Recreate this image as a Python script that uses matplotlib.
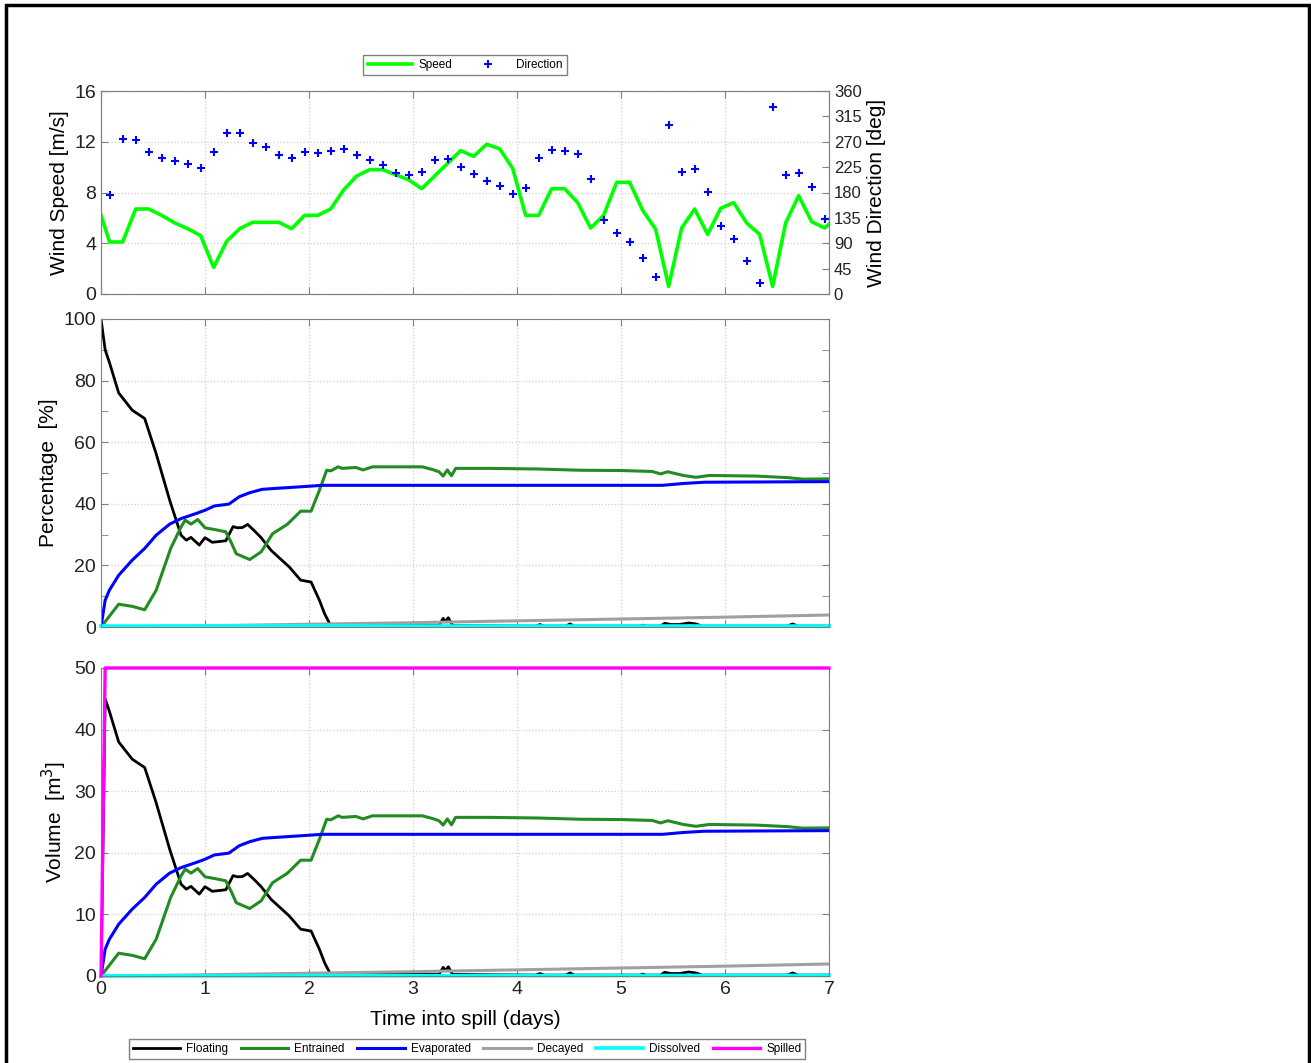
import numpy as np
import matplotlib
matplotlib.use("Agg")
from matplotlib import pyplot as plt
from matplotlib.patches import Rectangle

plt.rcParams['font.family'] = ['Liberation Sans', 'DejaVu Sans']

# wind record (hours since spill start)
dir_hours = np.arange(2, 168, 3)
wind_dir = [176, 274, 273, 251, 241, 235, 230, 223, 252, 285,
            285, 267, 261, 246, 241, 252, 250, 253, 257, 247,
            238, 228, 214, 211, 217, 237, 240, 225, 212, 200,
            192, 178, 188, 241, 256, 254, 248, 204, 132, 109,
            93, 64, 30, 299, 217, 221, 181, 120, 97, 58,
            20, 332, 211, 215, 189, 133]
speed_hours = np.concatenate([[0], dir_hours, [168]])
wind_speed = [6.2,
              4.1, 4.1, 6.7, 6.7, 6.2, 5.6, 5.15, 4.6, 2.1, 4.15,
              5.15, 5.65, 5.65, 5.65, 5.15, 6.2, 6.2, 6.7, 8.2, 9.3,
              9.8, 9.8, 9.4, 9.0, 8.3, 9.3, 10.3, 11.3, 10.85, 11.8,
              11.45, 9.9, 6.2, 6.2, 8.3, 8.3, 7.2, 5.2, 6.2, 8.8,
              8.8, 6.6, 5.1, 0.6, 5.2, 6.7, 4.7, 6.75, 7.2, 5.6,
              4.7, 0.6, 5.6, 7.75, 5.7, 5.2,
              5.5]

# mass balance, percent of spilled volume
float_t = [0, 0.04, 0.08, 0.17, 0.30, 0.42, 0.53, 0.66, 0.77, 0.82, 0.865, 0.945,
           1.0, 1.07, 1.2, 1.27, 1.31, 1.36, 1.41, 1.47, 1.54, 1.635, 1.81, 1.92,
           2.02, 2.1, 2.15, 2.2, 2.26, 3.25, 3.29, 3.31, 3.34, 3.38, 4.18, 4.22,
           4.26, 4.47, 4.51, 4.55, 5.18, 5.21, 5.24, 5.38, 5.42, 5.48, 5.56, 5.65,
           5.72, 5.78, 6.6, 6.65, 6.7, 7.0]
float_pct = [100, 90, 86, 76, 70.4, 67.7, 56.3, 41.2, 29.8, 28.2, 29.1, 26.6,
             29, 27.5, 28, 32.6, 32.2, 32.3, 33.3, 31.4, 29, 24.9, 19.5, 15.2,
             14.6, 8.7, 4.3, 1.0, 0.5, 0.5, 2.8, 1.8, 3.0, 0.5, 0.3, 0.8,
             0.3, 0.3, 1.0, 0.3, 0.3, 0.6, 0.3, 0.3, 1.2, 0.8, 0.8, 1.3,
             1.0, 0.3, 0.3, 1.0, 0.3, 0.3]

entr_t = [0, 0.17, 0.30, 0.42, 0.53, 0.67, 0.77, 0.81, 0.865, 0.93, 1.0, 1.1,
          1.2, 1.25, 1.3, 1.43, 1.54, 1.65, 1.79, 1.92, 2.02, 2.1, 2.17, 2.21,
          2.28, 2.32, 2.45, 2.52, 2.61, 3.09, 3.19, 3.25, 3.29, 3.33, 3.37, 3.41,
          3.73, 4.2, 4.6, 5.0, 5.3, 5.38, 5.45, 5.6, 5.72, 5.85, 6.3, 6.6, 6.75, 7.0]
entr_pct = [0, 7.4, 6.7, 5.6, 11.9, 25.5, 32.5, 34.7, 33.4, 34.9, 32.2, 31.6,
            30.9, 27.6, 23.8, 21.9, 24.4, 30.3, 33.3, 37.6, 37.6, 44.4, 50.9, 50.7,
            52, 51.5, 51.8, 51, 52, 52, 51.1, 50.4, 49, 51, 49.1, 51.5,
            51.5, 51.3, 50.9, 50.8, 50.5, 49.7, 50.4, 49.2, 48.6, 49.2, 49.0, 48.5, 48.0, 48.1]

evap_t = [0, 0.04, 0.08, 0.17, 0.30, 0.42, 0.53, 0.66, 0.77, 0.91, 1.0, 1.09,
          1.23, 1.33, 1.43, 1.55, 1.68, 2.0, 2.13, 5.4, 5.6, 5.8, 7.0]
evap_pct = [0, 8.7, 11.9, 16.8, 21.7, 25.5, 29.8, 33.4, 35.2, 36.8, 37.9, 39.3,
            39.9, 42.3, 43.6, 44.7, 45, 45.7, 46, 46, 46.6, 47, 47.2]

decay_t = [0, 1, 2, 3, 4, 5, 6, 7]
decay_pct = [0, 0.4, 0.9, 1.4, 2.0, 2.6, 3.2, 3.9]

diss_t = [0, 7]
diss_pct = [0.2, 0.2]

spill_t = [0, 0.04, 7]
spill_vol = [0, 50, 50]

fates = [
    ("Floating", float_t, float_pct, "black", 2.0),
    ("Entrained", entr_t, entr_pct, "#228b22", 2.2),
    ("Evaporated", evap_t, evap_pct, "#0000ff", 2.2),
    ("Decayed", decay_t, decay_pct, "#a0a0a0", 2.2),
    ("Dissolved", diss_t, diss_pct, "#00ffff", 2.6),
]

W, H = 1311, 1063
fig = plt.figure(figsize=(W / 100, H / 100), dpi=100)


def box(l, t, r, b):
    return [l / W, 1 - b / H, (r - l) / W, (b - t) / H]


def style(ax):
    for s in ax.spines.values():
        s.set_color("#808080")
    ax.tick_params(direction="in", labelsize=14, color="#808080", labelcolor="#222222",
                   top=True, right=True, length=5)
    ax.grid(True, color="#d0d0d0", linestyle=":", linewidth=0.9)
    ax.set_xlim(0, 7)
    ax.set_xticks(range(8))


leg_kw = dict(loc="center", fontsize=8.5, fancybox=False, edgecolor="#808080",
              borderpad=0.35, framealpha=1, handletextpad=0.5)

# wind panel
ax1 = fig.add_axes(box(101, 91, 829, 294))
style(ax1)
ax1.tick_params(right=False)
ax1.plot(speed_hours / 24, wind_speed, color="#00ff00", lw=2.6, label="Speed")
ax1.set_ylim(0, 16)
ax1.set_yticks([0, 4, 8, 12, 16])
ax1.set_xticklabels([])
ax1.set_ylabel("Wind Speed [m/s]", fontsize=15)
ax1b = ax1.twinx()
ax1b.plot(dir_hours / 24, wind_dir, "+", color="#0000ff", ms=6, mew=1.5, label="Direction")
ax1b.set_ylim(0, 360)
ax1b.set_yticks(range(0, 361, 45))
ax1b.tick_params(direction="in", labelsize=12, color="#808080", labelcolor="#222222", length=5)
for s in ax1b.spines.values():
    s.set_color("#808080")
ax1b.set_ylabel("Wind Direction [deg]", fontsize=15)
h1, l1 = ax1.get_legend_handles_labels()
h2, l2 = ax1b.get_legend_handles_labels()
fig.legend(h1 + h2, l1 + l2, bbox_to_anchor=(465 / W, 1 - 65 / H), ncol=2,
           handlelength=3.8, columnspacing=1.1, **leg_kw)

# percentage panel
ax2 = fig.add_axes(box(101, 319, 829, 627))
style(ax2)
for name, t, v, c, lw in fates:
    ax2.plot(t, v, color=c, lw=lw, clip_on=(name != "Dissolved"))
ax2.set_ylim(0, 100)
ax2.set_yticks(range(0, 101, 20))
ax2.set_yticks(range(10, 100, 20), minor=True)
ax2.tick_params(which="minor", direction="in", color="#808080", right=True, length=5)
ax2.set_xticklabels([])
ax2.set_ylabel("Percentage  [%]", fontsize=15)

# volume panel
ax3 = fig.add_axes(box(101, 668, 829, 976))
style(ax3)
handles = []
for name, t, v, c, lw in fates:
    vol = np.array(v) * np.interp(t, spill_t, spill_vol) / 100
    handles += ax3.plot(t, vol, color=c, lw=lw, label=name, clip_on=(name != "Dissolved"))
handles += ax3.plot(spill_t, spill_vol, color="#ff00ff", lw=2.4, label="Spilled",
                    clip_on=False, zorder=3)
ax3.set_ylim(0, 50)
ax3.set_yticks(range(0, 51, 10))
ax3.set_ylabel("Volume  [m$^3$]", fontsize=15)
ax3.set_xlabel("Time into spill (days)", fontsize=15, labelpad=9)
fig.legend(handles=handles, bbox_to_anchor=(467 / W, 1 - 1049 / H), ncol=6,
           handlelength=4.0, columnspacing=1.1, **leg_kw)

# figure border
fig.patches.append(Rectangle((6 / W, -0.01), (1309 - 6) / W, 1.01 - 5 / H,
                             transform=fig.transFigure, fill=False, edgecolor="black", lw=2.5))

fig.savefig("out.png", dpi=100)
